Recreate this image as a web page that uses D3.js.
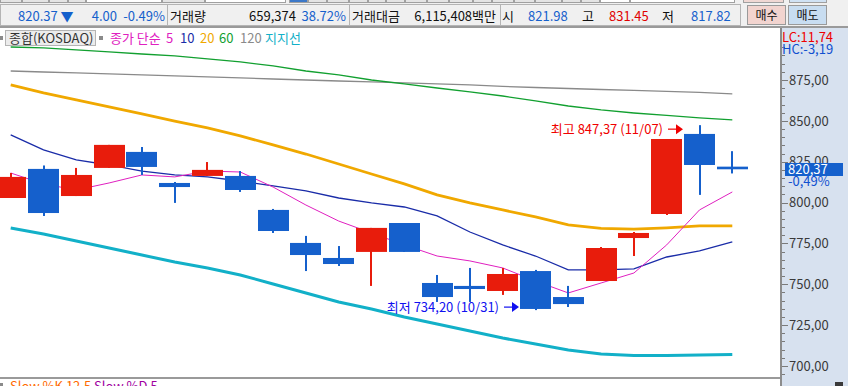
<!DOCTYPE html>
<html>
<head>
<meta charset="utf-8">
<script src="https://cdn.jsdelivr.net/npm/d3@7"></script>
<style>
  body { margin: 0; background: #f0f0f0; }
  svg { display: block; }
</style>
</head>
<body>
<svg id="chart" width="848" height="386"></svg>
<script>
// daily candles, KOSDAQ composite
const dates = ["10/08","10/10","10/11","10/14","10/15","10/16","10/17","10/18","10/21","10/22","10/23",
  "10/24","10/25","10/28","10/29","10/30","10/31","11/01","11/04","11/05","11/06","11/07","11/08"];
const open  = [802.8, 820.6, 804.0, 821.2, 831.0, 812.0, 816.3, 816.3, 795.5, 775.3, 766.1,
  769.8, 787.5, 750.8, 749.0, 745.9, 758.1, 742.2, 752.0, 778.3, 793.0, 842.0, 821.98];
const high  = [818.1, 822.7, 821.2, 835.3, 834.0, 812.6, 824.8, 819.3, 796.1, 779.6, 773.4,
  784.5, 787.5, 755.7, 760.0, 760.0, 758.8, 749.0, 772.8, 782.0, 838.9, 847.37, 831.45];
const low   = [802.8, 791.8, 804.0, 821.2, 816.9, 799.8, 816.3, 806.5, 781.4, 758.1, 761.2,
  749.0, 769.8, 739.2, 739.2, 743.5, 734.20, 736.1, 752.0, 767.3, 792.4, 804.7, 817.82];
const close = [815.7, 793.6, 816.9, 835.3, 821.8, 809.5, 820.0, 807.7, 782.6, 767.9, 762.4,
  784.5, 769.8, 742.2, 747.1, 756.3, 734.9, 737.9, 772.2, 781.4, 838.9, 823.0, 820.37];

// moving averages
const ma5   = [818.1, 811.4, 807.7, 812.0, 816.9, 815.7, 819.3, 818.7, 809.5, 798.5, 788.7,
  781.4, 774.1, 767.3, 764.3, 760.0, 752.0, 744.7, 750.8, 756.9, 774.1, 795.5, 806.5];
const ma10  = [841.4, 832.2, 826.1, 823.0, 819.3, 816.9, 815.7, 813.2, 810.2, 807.1, 802.8,
  799.8, 797.3, 791.8, 782.0, 774.1, 767.3, 758.8, 758.8, 759.4, 766.7, 770.4, 775.9];
const ma20  = [872.0, 867.1, 862.8, 858.5, 854.2, 849.9, 845.7, 840.8, 835.3, 829.7, 823.6,
  817.5, 811.4, 804.7, 799.8, 795.5, 791.2, 786.3, 784.2, 783.7, 784.5, 785.7, 785.7];
const ma60  = [895.2, 894.6, 893.4, 892.2, 890.9, 889.7, 887.9, 886.1, 883.6, 880.5, 878.1,
  875.0, 872.6, 870.1, 867.7, 865.2, 862.2, 859.1, 856.7, 854.8, 853.3, 851.8, 850.6];
const ma120 = [880.5, 879.9, 879.3, 878.7, 878.1, 877.5, 876.9, 876.3, 875.6, 875.0, 874.4,
  873.8, 873.2, 872.6, 872.0, 871.1, 870.4, 869.8, 869.2, 868.6, 868.0, 867.4, 866.5];
const support = [784.5, 780.8, 776.5, 772.2, 767.9, 763.6, 760.0, 755.7, 750.2, 744.7, 739.2,
  734.9, 730.0, 725.7, 721.4, 717.1, 713.5, 709.8, 707.3, 706.4, 706.4, 706.7, 707.0];

const yTicks = [700, 725, 750, 775, 800, 825, 850, 875];
const lastPrice = 820.37, changePct = "-0,49%";

const svg = d3.select("#chart");
const W = 848, H = 386;
const plot = { left: 0, right: 780, top: 29, bottom: 378 };
const FONT = '"Liberation Sans Narrow","Noto Sans CJK KR",sans-serif';
const KFONT = '"Noto Sans CJK KR",sans-serif';
const RED = "#e81c0c", BLUE = "#1560cc";

const x = d3.scalePoint().domain(dates).range([10.7, 732.3]);
const y = d3.scaleLinear().domain([700, 875]).range([366, 80]);
const bw = Math.round(x.step() - 1.8);
const fmt = v => d3.format(".2f")(v).replace(".", ",");

// ---- toolbar strip
svg.append("rect").attr("width", W).attr("height", 28).attr("fill", "#f0f0f0");
const toolbar = [[0,22,"#e4e4e4"],[22,49,"#e4e4e4"],[49,68,"#e4e4e4"],[68,86,"#e4e4e4"],[86,162,"#fff"],
  [162,205,"#e4e4e4"],[205,286,"#fff"],[289,308,"#3c78c8"],[308,327,"#e4e4e4"],[327,349,"#e4e4e4"],
  [349,368,"#e4e4e4"],[368,386,"#e4e4e4"],[386,405,"#e4e4e4"],[405,427,"#e4e4e4"],[427,449,"#e4e4e4"],
  [449,473,"#e4e4e4"],[473,492,"#e4e4e4"],[492,514,"#e4e4e4"],[514,535,"#e4e4e4"],[535,562,"#e4e4e4"],
  [562,581,"#e4e4e4"],[581,600,"#e4e4e4"],[600,630,"#fff"],[630,735,"#fff"],[743,784,"#f0d8d4"],[789,827,"#d0e2f4"]];
svg.append("g").selectAll("rect").data(toolbar).join("rect")
  .attr("x", d => d[0] + 0.5).attr("y", -6).attr("width", d => d[1] - d[0] - 1).attr("height", 8.5)
  .attr("fill", d => d[2]).attr("stroke", "#a0a0a0");

// ---- info bar
svg.append("rect").attr("x", 0.5).attr("y", 4.5).attr("width", 740).attr("height", 21)
  .attr("fill", "#f0f0f0").attr("stroke", "#b4b4b4");
svg.append("g").selectAll("line").data([167, 349, 500]).join("line")
  .attr("x1", d => d + 0.5).attr("x2", d => d + 0.5).attr("y1", 5).attr("y2", 25).attr("stroke", "#b4b4b4");

const infoTexts = [
  ["820.37 ▼", 18, "start", BLUE], ["4.00", 117, "end", BLUE], ["-0.49%", 165, "end", BLUE],
  ["거래량", 170, "start", "#111"], ["659,374", 296, "end", "#111"], ["38.72%", 346, "end", BLUE],
  ["거래대금", 352, "start", "#111"], ["6,115,408백만", 496, "end", "#111"],
  ["시", 502, "start", "#111"], ["821.98", 528, "start", BLUE],
  ["고", 582, "start", "#111"], ["831.45", 609, "start", "#e00000"],
  ["저", 662, "start", "#111"], ["817.82", 691, "start", BLUE]
];
svg.append("g").selectAll("text").data(infoTexts).join("text")
  .attr("x", d => d[1]).attr("y", 20.5).attr("text-anchor", d => d[2]).attr("fill", d => d[3])
  .attr("font-family", FONT).attr("font-size", 13).text(d => d[0]);

const buttons = [["매수", 747, "#f2d4cf"], ["매도", 788, "#c8ddf1"]];
const btn = svg.append("g").selectAll("g").data(buttons).join("g");
btn.append("rect").attr("x", d => d[1] + 0.5).attr("y", 5.5).attr("width", 38).attr("height", 19)
  .attr("fill", d => d[2]).attr("stroke", "#9a9a9a");
btn.append("text").attr("x", d => d[1] + 19.5).attr("y", 20).attr("text-anchor", "middle")
  .attr("font-family", KFONT).attr("font-size", 12).attr("fill", "#111").text(d => d[0]);

svg.append("rect").attr("x", 0).attr("y", 26).attr("width", W).attr("height", 2).attr("fill", "#9a9a9a");

// ---- plot area
svg.append("rect").attr("x", 0).attr("y", 28).attr("width", plot.right).attr("height", H - 28).attr("fill", "#fff");
svg.append("defs").append("clipPath").attr("id", "clip")
  .append("rect").attr("x", plot.left).attr("y", plot.top)
  .attr("width", plot.right - plot.left).attr("height", plot.bottom - plot.top);
const g = svg.append("g").attr("clip-path", "url(#clip)");

const line = d3.line().x((d, i) => x(dates[i])).y(d => y(d));
const series = [
  { data: support, color: "#12b0c8", w: 3 },
  { data: ma120, color: "#8a8a8a", w: 1.3 },
  { data: ma60, color: "#12a030", w: 1.3 },
  { data: ma20, color: "#f0a800", w: 2.8 },
  { data: ma10, color: "#1a2ca8", w: 1.3 },
  { data: ma5, color: "#e020c0", w: 1 }
];
g.selectAll("path.ma").data(series).join("path").attr("class", "ma")
  .attr("d", d => line(d.data)).attr("fill", "none")
  .attr("stroke", d => d.color).attr("stroke-width", d => d.w);

const candles = dates.map((d, i) => ({ d, o: open[i], h: high[i], l: low[i], c: close[i] }));
const color = d => (d.c >= d.o ? RED : BLUE);
g.selectAll("rect.wick").data(candles).join("rect").attr("class", "wick")
  .attr("x", d => Math.round(x(d.d)) - 1).attr("width", 2)
  .attr("y", d => y(d.h)).attr("height", d => y(d.l) - y(d.h)).attr("fill", color);
g.selectAll("rect.body").data(candles).join("rect").attr("class", "body")
  .attr("x", d => Math.round(x(d.d) - bw / 2)).attr("width", bw)
  .attr("y", d => y(Math.max(d.o, d.c)))
  .attr("height", d => Math.max(2, Math.abs(y(d.o) - y(d.c))))
  .attr("fill", color);

// high / low annotations
const iHi = d3.maxIndex(high), iLo = d3.minIndex(low);
const hiX = Math.round(x(dates[iHi]) - bw / 2) - 1, hiY = y(high[iHi]) + 4;
const loX = Math.round(x(dates[iLo]) - bw / 2) - 1, loY = y(low[iLo]) - 3;
const notes = [
  { tx: hiX, ty: hiY, c: "#f00000", label: `최고 ${fmt(high[iHi])} (${dates[iHi]})` },
  { tx: loX, ty: loY, c: "#1010f0", label: `최저 ${fmt(low[iLo])} (${dates[iLo]})` }
];
const ng = g.selectAll("g.note").data(notes).join("g").attr("class", "note");
ng.append("line").attr("x1", d => d.tx - 15).attr("x2", d => d.tx - 6)
  .attr("y1", d => d.ty).attr("y2", d => d.ty).attr("stroke", d => d.c).attr("stroke-width", 1.2);
ng.append("path").attr("d", d => `M${d.tx - 7},${d.ty - 5}L${d.tx},${d.ty}L${d.tx - 7},${d.ty + 5}Z`)
  .attr("fill", d => d.c);
ng.append("text").attr("x", d => d.tx - 20).attr("y", d => d.ty + 4.5).attr("text-anchor", "end")
  .attr("font-family", FONT).attr("font-size", 13).attr("fill", d => d.c).text(d => d.label);

// legend row
svg.append("rect").attr("x", 0).attr("y", 36).attr("width", 3).attr("height", 4).attr("fill", "#8a8a8a");
svg.append("rect").attr("x", 5.5).attr("y", 30.5).attr("width", 90).attr("height", 15)
  .attr("fill", "#ececec").attr("stroke", "#b4b4b4");
svg.append("text").attr("x", 9).attr("y", 42.5).attr("font-family", FONT).attr("font-size", 13)
  .attr("fill", "#333").text("종합(KOSDAQ)");
svg.append("rect").attr("x", 99).attr("y", 36).attr("width", 4).attr("height", 4).attr("fill", "#8a8a8a");
const legend = [["종가 단순", 110, "#e020c0"], ["5", 166, "#e020c0"], ["10", 180, "#1a2ca8"],
  ["20", 200, "#f0a800"], ["60", 219, "#12a030"], ["120", 240, "#8a8a8a"], ["지지선", 265, "#12b0c8"]];
svg.append("g").selectAll("text").data(legend).join("text")
  .attr("x", d => d[1]).attr("y", 42.5).attr("fill", d => d[2])
  .attr("font-family", FONT).attr("font-size", 13).text(d => d[0]);

// ---- bottom pane header
svg.append("rect").attr("x", 0).attr("y", 377).attr("width", plot.right).attr("height", 2).attr("fill", "#9a9a9a");
svg.append("rect").attr("x", 0).attr("y", 383).attr("width", 3).attr("height", 3).attr("fill", "#8a8a8a");
svg.append("text").attr("x", 10).attr("y", 391).attr("font-family", FONT).attr("font-size", 13)
  .attr("fill", "#ff6a00").text("Slow %K 12,5");
svg.append("text").attr("x", 94).attr("y", 391).attr("font-family", FONT).attr("font-size", 13)
  .attr("fill", "#a000a0").text("Slow %D 5");

// ---- price axis panel
const ax = svg.append("g");
ax.append("rect").attr("x", 780).attr("y", 28).attr("width", W - 780).attr("height", H - 28).attr("fill", "#d7e1ef");
ax.append("rect").attr("x", 780).attr("y", 28).attr("width", 2).attr("height", H - 28).attr("fill", "#8c8c8c");
const minor = d3.range(690, 910, 5).filter(v => y(v) > 32 && y(v) < 376 && v % 25 !== 0);
ax.selectAll("line.minor").data(minor).join("line").attr("class", "minor")
  .attr("x1", 782).attr("x2", 785).attr("y1", d => Math.round(y(d)) + 0.5).attr("y2", d => Math.round(y(d)) + 0.5)
  .attr("stroke", "#7a7a7a");
ax.selectAll("line.major").data(yTicks).join("line").attr("class", "major")
  .attr("x1", 782).attr("x2", 788).attr("y1", d => Math.round(y(d)) + 0.5).attr("y2", d => Math.round(y(d)) + 0.5)
  .attr("stroke", "#7a7a7a");
ax.selectAll("text.tick").data(yTicks).join("text").attr("class", "tick")
  .attr("x", 789).attr("y", d => y(d)).attr("dy", "0.36em")
  .attr("font-family", FONT).attr("font-size", 13).attr("fill", "#3a3a3a").text(fmt);

ax.append("text").attr("x", 782).attr("y", 42).attr("font-family", FONT).attr("font-size", 13)
  .attr("fill", "#ee0000").text("LC:11,74");
ax.append("text").attr("x", 782).attr("y", 54).attr("font-family", FONT).attr("font-size", 13)
  .attr("fill", "#1050d0").text("HC:-3,19");

const py = y(lastPrice);
ax.append("rect").attr("x", 785).attr("y", Math.round(py) - 6).attr("width", 58).attr("height", 13).attr("fill", BLUE);
ax.append("text").attr("x", 788).attr("y", py).attr("dy", "0.36em").attr("font-family", FONT)
  .attr("font-size", 13).attr("fill", "#fff").text(fmt(lastPrice));
ax.append("text").attr("x", 788).attr("y", py + 12).attr("dy", "0.36em").attr("font-family", FONT)
  .attr("font-size", 13).attr("fill", "#1050d0").text(changePct);

ax.append("rect").attr("x", 835).attr("y", 382).attr("width", 8).attr("height", 6).attr("fill", "#3a3a3a");
</script>
</body>
</html>
